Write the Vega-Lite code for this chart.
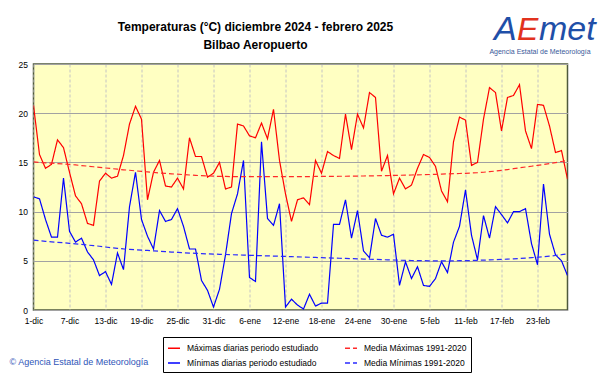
{
  "$schema": "https://vega.github.io/schema/vega-lite/v6.json",
  "width": 534,
  "height": 246,
  "autosize": {"type": "none"},
  "padding": {"left": 33.5, "top": 64, "right": 33.5, "bottom": 64},
  "background": "#ffffff",
  "title": {
    "text": ["Temperaturas (°C) diciembre 2024 - febrero 2025", "Bilbao Aeropuerto"],
    "font": "Liberation Sans",
    "fontSize": 12,
    "fontWeight": "bold",
    "color": "#000000",
    "anchor": "middle",
    "dx": -45,
    "baseline": "bottom",
    "offset": -51,
    "lineHeight": 18
  },
  "config": {
    "view": {"fill": "#ffffc2", "stroke": "#4f5a3c", "strokeWidth": 1.5},
    "font": "Liberation Sans",
    "axis": {
      "labelFont": "Liberation Sans",
      "labelFontSize": 8.5,
      "labelColor": "#000000",
      "ticks": false,
      "domain": false,
      "labelPadding": 6,
      "labelOverlap": false
    },
    "legend": {
      "orient": "none",
      "legendX": 129.5,
      "legendY": 273,
      "columns": 2,
      "columnPadding": 23,
      "rowPadding": 3,
      "padding": 4,
      "fillColor": "#ffffff",
      "strokeColor": "#000000",
      "labelFont": "Liberation Sans",
      "labelFontSize": 8.5,
      "labelColor": "#000000",
      "labelOffset": 6,
      "symbolType": "stroke",
      "symbolSize": 144,
      "symbolStrokeWidth": 1.5
    }
  },
  "layer": [
    {
      "data": {
        "values": [
          {"fecha": "2024/12/01", "maxima": 20.8, "minima": 11.5, "media_max": 15.05, "media_min": 7.1},
          {"fecha": "2024/12/02", "maxima": 15.8, "minima": 11.3, "media_max": 15.0, "media_min": 7.04},
          {"fecha": "2024/12/03", "maxima": 14.4, "minima": 9.2, "media_max": 14.96, "media_min": 6.98},
          {"fecha": "2024/12/04", "maxima": 14.8, "minima": 7.4, "media_max": 14.92, "media_min": 6.93},
          {"fecha": "2024/12/05", "maxima": 17.3, "minima": 7.4, "media_max": 14.88, "media_min": 6.88},
          {"fecha": "2024/12/06", "maxima": 16.5, "minima": 13.4, "media_max": 14.84, "media_min": 6.83},
          {"fecha": "2024/12/07", "maxima": 14.0, "minima": 8.0, "media_max": 14.8, "media_min": 6.78},
          {"fecha": "2024/12/08", "maxima": 11.6, "minima": 6.9, "media_max": 14.74, "media_min": 6.72},
          {"fecha": "2024/12/09", "maxima": 10.8, "minima": 7.3, "media_max": 14.68, "media_min": 6.66},
          {"fecha": "2024/12/10", "maxima": 8.8, "minima": 5.9, "media_max": 14.62, "media_min": 6.6},
          {"fecha": "2024/12/11", "maxima": 8.6, "minima": 5.1, "media_max": 14.56, "media_min": 6.54},
          {"fecha": "2024/12/12", "maxima": 13.1, "minima": 3.5, "media_max": 14.5, "media_min": 6.48},
          {"fecha": "2024/12/13", "maxima": 13.9, "minima": 3.9, "media_max": 14.43, "media_min": 6.4},
          {"fecha": "2024/12/14", "maxima": 13.4, "minima": 2.6, "media_max": 14.37, "media_min": 6.33},
          {"fecha": "2024/12/15", "maxima": 13.6, "minima": 5.8, "media_max": 14.31, "media_min": 6.27},
          {"fecha": "2024/12/16", "maxima": 15.7, "minima": 4.1, "media_max": 14.25, "media_min": 6.21},
          {"fecha": "2024/12/17", "maxima": 18.9, "minima": 10.5, "media_max": 14.2, "media_min": 6.17},
          {"fecha": "2024/12/18", "maxima": 20.7, "minima": 14.0, "media_max": 14.14, "media_min": 6.13},
          {"fecha": "2024/12/19", "maxima": 19.4, "minima": 9.2, "media_max": 14.08, "media_min": 6.09},
          {"fecha": "2024/12/20", "maxima": 11.2, "minima": 7.5, "media_max": 14.03, "media_min": 6.05},
          {"fecha": "2024/12/21", "maxima": 14.0, "minima": 6.2, "media_max": 13.98, "media_min": 6.01},
          {"fecha": "2024/12/22", "maxima": 15.2, "minima": 10.1, "media_max": 13.93, "media_min": 5.97},
          {"fecha": "2024/12/23", "maxima": 12.6, "minima": 9.0, "media_max": 13.88, "media_min": 5.93},
          {"fecha": "2024/12/24", "maxima": 12.5, "minima": 9.2, "media_max": 13.84, "media_min": 5.89},
          {"fecha": "2024/12/25", "maxima": 13.4, "minima": 10.3, "media_max": 13.8, "media_min": 5.85},
          {"fecha": "2024/12/26", "maxima": 12.3, "minima": 8.5, "media_max": 13.76, "media_min": 5.82},
          {"fecha": "2024/12/27", "maxima": 17.5, "minima": 6.2, "media_max": 13.72, "media_min": 5.79},
          {"fecha": "2024/12/28", "maxima": 15.6, "minima": 6.2, "media_max": 13.68, "media_min": 5.76},
          {"fecha": "2024/12/29", "maxima": 15.6, "minima": 3.0, "media_max": 13.65, "media_min": 5.73},
          {"fecha": "2024/12/30", "maxima": 13.5, "minima": 2.0, "media_max": 13.62, "media_min": 5.7},
          {"fecha": "2024/12/31", "maxima": 13.9, "minima": 0.3, "media_max": 13.6, "media_min": 5.68},
          {"fecha": "2025/01/01", "maxima": 15.0, "minima": 2.1, "media_max": 13.58, "media_min": 5.66},
          {"fecha": "2025/01/02", "maxima": 12.3, "minima": 5.6, "media_max": 13.57, "media_min": 5.64},
          {"fecha": "2025/01/03", "maxima": 12.5, "minima": 9.8, "media_max": 13.56, "media_min": 5.62},
          {"fecha": "2025/01/04", "maxima": 18.9, "minima": 11.8, "media_max": 13.55, "media_min": 5.6},
          {"fecha": "2025/01/05", "maxima": 18.7, "minima": 15.2, "media_max": 13.55, "media_min": 5.58},
          {"fecha": "2025/01/06", "maxima": 17.7, "minima": 3.3, "media_max": 13.55, "media_min": 5.56},
          {"fecha": "2025/01/07", "maxima": 17.5, "minima": 2.9, "media_max": 13.55, "media_min": 5.54},
          {"fecha": "2025/01/08", "maxima": 19.0, "minima": 17.1, "media_max": 13.55, "media_min": 5.52},
          {"fecha": "2025/01/09", "maxima": 17.4, "minima": 9.3, "media_max": 13.55, "media_min": 5.5},
          {"fecha": "2025/01/10", "maxima": 20.4, "minima": 8.6, "media_max": 13.55, "media_min": 5.48},
          {"fecha": "2025/01/11", "maxima": 15.2, "minima": 10.8, "media_max": 13.55, "media_min": 5.46},
          {"fecha": "2025/01/12", "maxima": 11.8, "minima": 0.3, "media_max": 13.55, "media_min": 5.44},
          {"fecha": "2025/01/13", "maxima": 9.0, "minima": 1.1, "media_max": 13.55, "media_min": 5.42},
          {"fecha": "2025/01/14", "maxima": 11.2, "minima": 0.5, "media_max": 13.55, "media_min": 5.4},
          {"fecha": "2025/01/15", "maxima": 11.4, "minima": 0.1, "media_max": 13.56, "media_min": 5.38},
          {"fecha": "2025/01/16", "maxima": 10.7, "minima": 1.6, "media_max": 13.56, "media_min": 5.36},
          {"fecha": "2025/01/17", "maxima": 15.2, "minima": 0.4, "media_max": 13.57, "media_min": 5.34},
          {"fecha": "2025/01/18", "maxima": 13.9, "minima": 0.7, "media_max": 13.57, "media_min": 5.32},
          {"fecha": "2025/01/19", "maxima": 16.1, "minima": 0.7, "media_max": 13.58, "media_min": 5.3},
          {"fecha": "2025/01/20", "maxima": 15.7, "minima": 8.7, "media_max": 13.58, "media_min": 5.28},
          {"fecha": "2025/01/21", "maxima": 15.4, "minima": 8.7, "media_max": 13.59, "media_min": 5.26},
          {"fecha": "2025/01/22", "maxima": 19.9, "minima": 11.2, "media_max": 13.59, "media_min": 5.24},
          {"fecha": "2025/01/23", "maxima": 16.3, "minima": 7.3, "media_max": 13.6, "media_min": 5.22},
          {"fecha": "2025/01/24", "maxima": 19.9, "minima": 10.1, "media_max": 13.61, "media_min": 5.2},
          {"fecha": "2025/01/25", "maxima": 18.5, "minima": 6.0, "media_max": 13.62, "media_min": 5.18},
          {"fecha": "2025/01/26", "maxima": 22.1, "minima": 5.3, "media_max": 13.63, "media_min": 5.16},
          {"fecha": "2025/01/27", "maxima": 21.6, "minima": 9.3, "media_max": 13.64, "media_min": 5.14},
          {"fecha": "2025/01/28", "maxima": 14.1, "minima": 7.6, "media_max": 13.65, "media_min": 5.12},
          {"fecha": "2025/01/29", "maxima": 15.7, "minima": 7.4, "media_max": 13.66, "media_min": 5.1},
          {"fecha": "2025/01/30", "maxima": 11.8, "minima": 7.7, "media_max": 13.68, "media_min": 5.08},
          {"fecha": "2025/01/31", "maxima": 13.4, "minima": 2.5, "media_max": 13.69, "media_min": 5.06},
          {"fecha": "2025/02/01", "maxima": 12.3, "minima": 4.9, "media_max": 13.7, "media_min": 5.04},
          {"fecha": "2025/02/02", "maxima": 12.7, "minima": 3.2, "media_max": 13.72, "media_min": 5.03},
          {"fecha": "2025/02/03", "maxima": 14.4, "minima": 4.4, "media_max": 13.73, "media_min": 5.02},
          {"fecha": "2025/02/04", "maxima": 15.8, "minima": 2.5, "media_max": 13.75, "media_min": 5.01},
          {"fecha": "2025/02/05", "maxima": 15.5, "minima": 2.4, "media_max": 13.77, "media_min": 5.0},
          {"fecha": "2025/02/06", "maxima": 14.6, "minima": 3.2, "media_max": 13.79, "media_min": 5.0},
          {"fecha": "2025/02/07", "maxima": 12.1, "minima": 4.9, "media_max": 13.81, "media_min": 5.0},
          {"fecha": "2025/02/08", "maxima": 11.0, "minima": 3.8, "media_max": 13.83, "media_min": 5.0},
          {"fecha": "2025/02/09", "maxima": 17.1, "minima": 6.9, "media_max": 13.85, "media_min": 5.0},
          {"fecha": "2025/02/10", "maxima": 19.6, "minima": 8.5, "media_max": 13.87, "media_min": 5.01},
          {"fecha": "2025/02/11", "maxima": 19.3, "minima": 12.2, "media_max": 13.89, "media_min": 5.02},
          {"fecha": "2025/02/12", "maxima": 14.7, "minima": 7.6, "media_max": 13.92, "media_min": 5.03},
          {"fecha": "2025/02/13", "maxima": 15.0, "minima": 5.1, "media_max": 13.95, "media_min": 5.05},
          {"fecha": "2025/02/14", "maxima": 19.4, "minima": 9.6, "media_max": 14.0, "media_min": 5.07},
          {"fecha": "2025/02/15", "maxima": 22.6, "minima": 7.3, "media_max": 14.06, "media_min": 5.09},
          {"fecha": "2025/02/16", "maxima": 22.1, "minima": 10.5, "media_max": 14.12, "media_min": 5.11},
          {"fecha": "2025/02/17", "maxima": 18.2, "minima": 9.7, "media_max": 14.19, "media_min": 5.14},
          {"fecha": "2025/02/18", "maxima": 21.6, "minima": 8.85, "media_max": 14.27, "media_min": 5.17},
          {"fecha": "2025/02/19", "maxima": 21.8, "minima": 10.0, "media_max": 14.36, "media_min": 5.2},
          {"fecha": "2025/02/20", "maxima": 22.9, "minima": 10.0, "media_max": 14.45, "media_min": 5.24},
          {"fecha": "2025/02/21", "maxima": 18.2, "minima": 10.3, "media_max": 14.53, "media_min": 5.28},
          {"fecha": "2025/02/22", "maxima": 16.4, "minima": 6.75, "media_max": 14.61, "media_min": 5.32},
          {"fecha": "2025/02/23", "maxima": 20.9, "minima": 4.6, "media_max": 14.7, "media_min": 5.36},
          {"fecha": "2025/02/24", "maxima": 20.8, "minima": 12.8, "media_max": 14.79, "media_min": 5.41},
          {"fecha": "2025/02/25", "maxima": 18.7, "minima": 7.7, "media_max": 14.88, "media_min": 5.47},
          {"fecha": "2025/02/26", "maxima": 16.0, "minima": 5.6, "media_max": 14.98, "media_min": 5.54},
          {"fecha": "2025/02/27", "maxima": 16.2, "minima": 5.0, "media_max": 15.09, "media_min": 5.62},
          {"fecha": "2025/02/28", "maxima": 13.3, "minima": 3.5, "media_max": 15.2, "media_min": 5.72}
        ]
      },
      "transform": [
        {"fold": ["maxima", "minima", "media_max", "media_min"], "as": ["serie", "temp"]}
      ],
      "mark": {"type": "line", "strokeWidth": 1.2, "clip": true},
      "encoding": {
        "x": {
          "field": "fecha",
          "type": "temporal",
          "scale": {
            "domain": [{"year": 2024, "month": 12, "date": 1}, {"year": 2025, "month": 2, "date": 28}],
            "nice": false
          },
          "axis": {
            "values": [
              {"year": 2024, "month": 12, "date": 1},
              {"year": 2024, "month": 12, "date": 7},
              {"year": 2024, "month": 12, "date": 13},
              {"year": 2024, "month": 12, "date": 19},
              {"year": 2024, "month": 12, "date": 25},
              {"year": 2024, "month": 12, "date": 31},
              {"year": 2025, "month": 1, "date": 6},
              {"year": 2025, "month": 1, "date": 12},
              {"year": 2025, "month": 1, "date": 18},
              {"year": 2025, "month": 1, "date": 24},
              {"year": 2025, "month": 1, "date": 30},
              {"year": 2025, "month": 2, "date": 5},
              {"year": 2025, "month": 2, "date": 11},
              {"year": 2025, "month": 2, "date": 17},
              {"year": 2025, "month": 2, "date": 23}
            ],
            "tickCount": 30,
            "labelExpr": "date(datum.value) + '-' + ['ene','feb','mar','abr','may','jun','jul','ago','sep','oct','nov','dic'][month(datum.value)]",
            "labelAngle": 0,
            "labelAlign": "center",
            "grid": true,
            "gridColor": "#c4c4c4",
            "gridDash": [3, 2],
            "gridWidth": 1,
            "title": "© Agencia Estatal de Meteorología",
            "titleX": -24.5,
            "titleY": 51,
            "titleAlign": "left",
            "titleAnchor": "start",
            "titleBaseline": "middle",
            "titleColor": "#2f55b8",
            "titleFont": "Liberation Sans",
            "titleFontSize": 9,
            "titleFontWeight": "normal"
          }
        },
        "y": {
          "field": "temp",
          "type": "quantitative",
          "scale": {"domain": [0, 25], "nice": false, "zero": true},
          "axis": {
            "values": [0, 5, 10, 15, 20, 25],
            "grid": true,
            "gridColor": "#a2a2a2",
            "gridWidth": 1,
            "title": null
          }
        },
        "color": {
          "field": "serie",
          "type": "nominal",
          "scale": {
            "domain": ["maxima", "minima", "media_max", "media_min"],
            "range": ["#ff0000", "#0000ff", "#ff2a2a", "#2a2aff"]
          },
          "legend": {
            "title": null,
            "labelExpr": "datum.label == 'maxima' ? 'Máximas diarias periodo estudiado' : datum.label == 'minima' ? 'Mínimas diarias periodo estudiado' : datum.label == 'media_max' ? 'Media Máximas 1991-2020' : 'Media Mínimas 1991-2020'"
          }
        },
        "strokeDash": {
          "field": "serie",
          "type": "nominal",
          "scale": {
            "domain": ["maxima", "minima", "media_max", "media_min"],
            "range": [[1, 0], [1, 0], [5, 3], [5, 3]]
          },
          "legend": {
            "title": null,
            "labelExpr": "datum.label == 'maxima' ? 'Máximas diarias periodo estudiado' : datum.label == 'minima' ? 'Mínimas diarias periodo estudiado' : datum.label == 'media_max' ? 'Media Máximas 1991-2020' : 'Media Mínimas 1991-2020'"
          }
        }
      }
    },
    {
      "data": {"values": [{"logo": "A"}]},
      "mark": {"type": "text", "font": "Liberation Sans", "fontSize": 34, "fontStyle": "italic", "color": "#1f4fa8", "align": "left", "baseline": "alphabetic"},
      "encoding": {
        "x": {"datum": {"year": 2025, "month": 2, "date": 15, "hours": 18}, "type": "temporal"},
        "y": {"datum": 27.44, "type": "quantitative"},
        "text": {"field": "logo"}
      }
    },
    {
      "data": {"values": [{"logo": "E"}]},
      "mark": {"type": "text", "font": "Liberation Sans", "fontSize": 32, "fontStyle": "italic", "color": "#e2321e", "align": "left", "baseline": "alphabetic"},
      "encoding": {
        "x": {"datum": {"year": 2025, "month": 2, "date": 19, "hours": 14}, "type": "temporal"},
        "y": {"datum": 27.44, "type": "quantitative"},
        "text": {"field": "logo"}
      }
    },
    {
      "data": {"values": [{"logo": "met"}]},
      "mark": {"type": "text", "font": "Liberation Sans", "fontSize": 34, "fontStyle": "italic", "color": "#1f4fa8", "align": "left", "baseline": "alphabetic"},
      "encoding": {
        "x": {"datum": {"year": 2025, "month": 2, "date": 23, "hours": 6}, "type": "temporal"},
        "y": {"datum": 27.44, "type": "quantitative"},
        "text": {"field": "logo"}
      }
    },
    {
      "data": {"values": [{"logo": "Agencia Estatal de Meteorología"}]},
      "mark": {"type": "text", "font": "Liberation Sans", "fontSize": 7, "color": "#3a5a9a", "align": "center", "baseline": "middle"},
      "encoding": {
        "x": {"datum": {"year": 2025, "month": 2, "date": 23, "hours": 10}, "type": "temporal"},
        "y": {"datum": 26.22, "type": "quantitative"},
        "text": {"field": "logo"}
      }
    }
  ]
}
